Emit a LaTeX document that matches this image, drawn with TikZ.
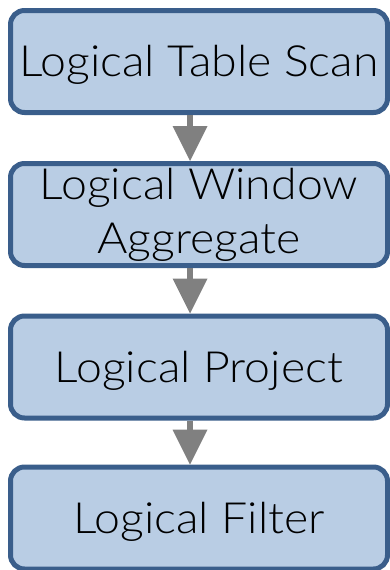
\documentclass[tikz,border=0pt]{standalone}
\usepackage{fontspec}
\setmainfont{Lato Light}[FakeStretch=1.08]
\usetikzlibrary{arrows.meta}
\definecolor{boxfill}{RGB}{185,205,228}
\definecolor{boxline}{RGB}{58,94,139}
\definecolor{flowgray}{RGB}{128,128,128}
\tikzset{
  stage/.style={draw=boxline, line width=5pt, fill=boxfill, rounded corners=14pt,
    minimum width=377pt, minimum height=102pt, inner sep=0pt, align=center,
    font=\fontsize{43}{54}\selectfont},
  oneline/.style={stage, text height=30.8pt, text depth=0pt},
  flow/.style={draw=flowgray, line width=6pt,
    -{Triangle[length=35pt, width=35pt, line width=0pt]}}
}
\begin{document}
\begin{tikzpicture}[x=1pt, y=1pt]
  \useasboundingbox (0,0) rectangle (390,-570);
  \node[oneline] (scan)    at (199,-61.5) {Logical Table Scan};
  \node[stage]   (window)  at (199,-214.5) {Logical Window\\Aggregate};
  \node[oneline] (project) at (199,-367) {Logical Project};
  \node[oneline] (filter)  at (199,-518) {Logical Filter};
  \draw[flow] ([xshift=-9pt]scan.south)    -- ([xshift=-9pt]window.north);
  \draw[flow] ([xshift=-9pt]window.south)  -- ([xshift=-9pt]project.north);
  \draw[flow] ([xshift=-9pt]project.south) -- ([xshift=-9pt]filter.north);
\end{tikzpicture}
\end{document}
